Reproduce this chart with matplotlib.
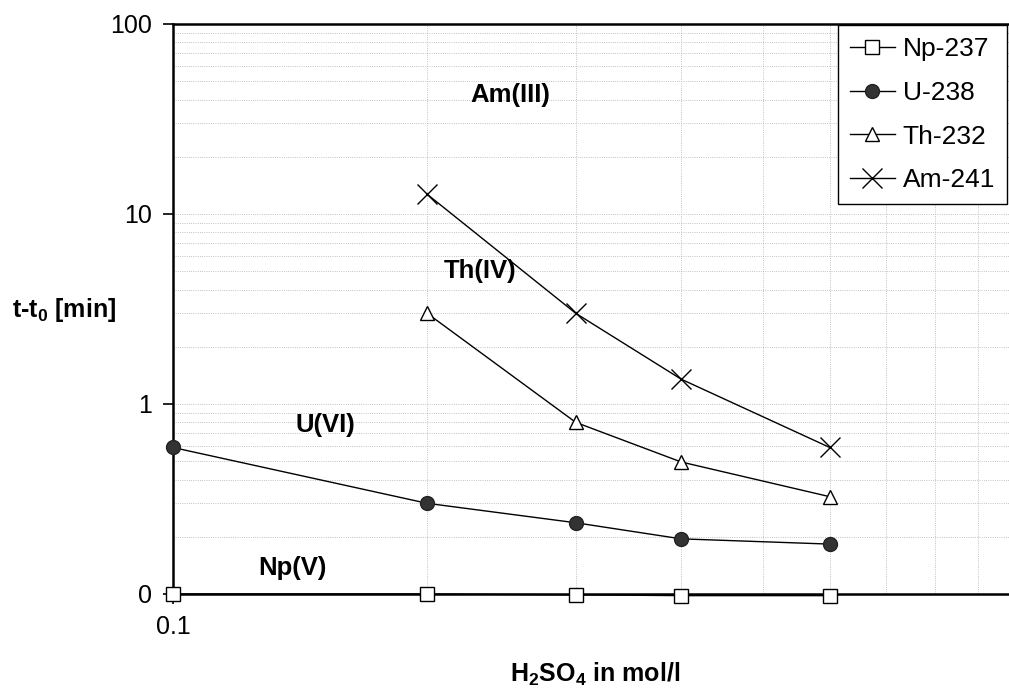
import numpy as np
import matplotlib
matplotlib.use('Agg')
import matplotlib.pyplot as plt
from matplotlib.ticker import FixedLocator, FixedFormatter, LogLocator, NullFormatter

plt.rcParams['font.family'] = ['Liberation Sans', 'DejaVu Sans']
plt.rcParams['mathtext.fontset'] = 'custom'
plt.rcParams['mathtext.rm'] = 'Liberation Sans'
plt.rcParams['mathtext.bf'] = 'Liberation Sans:bold'

# H2SO4 concentration (mol/l)
conc = [0.1, 0.2, 0.3, 0.4, 0.6]
conc_late = [0.2, 0.3, 0.4, 0.6]

# t - t0 in minutes
np237 = [0.1, 0.1, 0.099, 0.098, 0.098]
u238 = [0.59, 0.30, 0.237, 0.195, 0.183]
th232 = [3.0, 0.80, 0.495, 0.325]
am241 = [12.7, 3.0, 1.35, 0.59]

y_ticks = [0.1, 1, 10, 100]
y_tick_labels = ['0', '1', '10', '100']

fig = plt.figure(figsize=(10.09, 6.96), dpi=100)
ax = fig.add_axes([0.1715, 0.1466, 0.8365, 0.819])

ax.plot(conc, np237, color='black', lw=1.0, marker='s', ms=10, mfc='white',
        mec='black', mew=1.0, label='Np-237', clip_on=False, zorder=3)
ax.plot(conc, u238, color='black', lw=1.0, marker='o', ms=10, mfc='#333333',
        mec='#222222', label='U-238', clip_on=False, zorder=3)
ax.plot(conc_late, th232, color='black', lw=1.0, marker='^', ms=10, mfc='white',
        mec='black', mew=1.0, label='Th-232', zorder=3)
ax.plot(conc_late, am241, color='black', lw=1.0, marker='x', ms=14, mew=1.0,
        label='Am-241', zorder=3)

ax.set_xscale('log')
ax.set_yscale('log')
ax.set_xlim(0.1, 1)
ax.set_ylim(0.1, 100)

ax.yaxis.set_major_locator(FixedLocator(y_ticks))
ax.yaxis.set_major_formatter(FixedFormatter(y_tick_labels))
ax.yaxis.set_minor_locator(LogLocator(base=10, subs=np.arange(2, 10)))
ax.yaxis.set_minor_formatter(NullFormatter())
ax.xaxis.set_major_locator(FixedLocator([0.1, 1]))
ax.xaxis.set_major_formatter(FixedFormatter(['0.1', '1']))
ax.xaxis.set_minor_locator(LogLocator(base=10, subs=np.arange(2, 10)))
ax.xaxis.set_minor_formatter(NullFormatter())

ax.tick_params(axis='both', which='major', labelsize=18, length=7, width=1.2,
               direction='out', pad=8)
ax.tick_params(axis='both', which='minor', length=0)

ax.grid(True, which='both', ls=':', lw=0.6, color='#b0b0b0')
ax.set_axisbelow(True)

for s in ['left', 'bottom', 'top']:
    ax.spines[s].set_linewidth(1.8)
ax.spines['right'].set_linewidth(1.0)

ax.set_xlabel('H$_\\mathbf{2}$SO$_\\mathbf{4}$ in mol/l', fontsize=18,
              fontweight='bold', labelpad=16)
fig.text(0.012, 0.555, 't-t$_\\mathbf{0}$ [min]', fontsize=18,
         fontweight='bold', ha='left', va='center')

ax.text(0.2248, 42.3, 'Am(III)', fontsize=18.5, fontweight='bold', ha='left', va='center')
ax.text(0.209, 5.0, 'Th(IV)', fontsize=18.5, fontweight='bold', ha='left', va='center')
ax.text(0.1395, 0.775, 'U(VI)', fontsize=18.5, fontweight='bold', ha='left', va='center')
ax.text(0.1261, 0.137, 'Np(V)', fontsize=18.5, fontweight='bold', ha='left', va='center')

leg = ax.legend(loc='upper left', bbox_to_anchor=(0.788, 0.998), fontsize=19,
                frameon=True, fancybox=False, edgecolor='black', framealpha=1,
                handlelength=1.7, handletextpad=0.3, labelspacing=0.75,
                borderpad=0.45, borderaxespad=0)
leg.get_frame().set_linewidth(1.0)

fig.savefig('out.png', dpi=100)
